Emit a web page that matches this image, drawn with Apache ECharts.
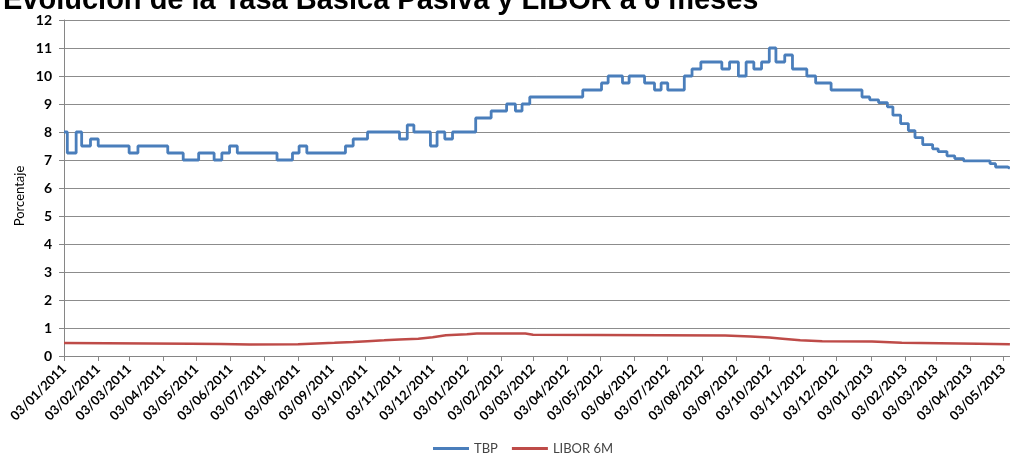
<!DOCTYPE html>
<html>
<head>
<meta charset="utf-8">
<script src="https://cdn.jsdelivr.net/npm/echarts@6/dist/echarts.min.js"></script>
<style>html,body{margin:0;padding:0;background:#fff}#c{width:1010px;height:466px}</style>
</head>
<body>
<div id="c"></div>
<script>
var titleText = 'Evolución de la Tasa Básica Pasiva y LIBOR a 6 meses';
var yName = 'Porcentaje';
var seriesNames = ['TBP', 'LIBOR 6M'];
var yTicks = [0,1,2,3,4,5,6,7,8,9,10,11,12];
var xStart = '2011-01-03';
var xEnd = '2013-05-09';
var tickDates = ['2011-01-03','2011-02-03','2011-03-03','2011-04-03','2011-05-03','2011-06-03','2011-07-03','2011-08-03','2011-09-03','2011-10-03','2011-11-03','2011-12-03','2012-01-03','2012-02-03','2012-03-03','2012-04-03','2012-05-03','2012-06-03','2012-07-03','2012-08-03','2012-09-03','2012-10-03','2012-11-03','2012-12-03','2013-01-03','2013-02-03','2013-03-03','2013-04-03','2013-05-03'];

var tbpDates = ['2011-01-03','2011-01-06','2011-01-14','2011-01-19','2011-01-27','2011-02-03','2011-03-03','2011-03-11','2011-04-07','2011-04-21','2011-05-05','2011-05-19','2011-05-26','2011-06-02','2011-06-09','2011-07-15','2011-07-29','2011-08-04','2011-08-11','2011-09-15','2011-09-22','2011-10-05','2011-11-03','2011-11-10','2011-11-16','2011-12-01','2011-12-07','2011-12-14','2011-12-21','2012-01-11','2012-01-25','2012-02-08','2012-02-16','2012-02-22','2012-02-29','2012-04-17','2012-05-04','2012-05-10','2012-05-23','2012-05-29','2012-06-12','2012-06-21','2012-06-27','2012-07-03','2012-07-18','2012-07-25','2012-08-02','2012-08-21','2012-08-28','2012-09-05','2012-09-12','2012-09-19','2012-09-26','2012-10-03','2012-10-09','2012-10-17','2012-10-24','2012-11-06','2012-11-14','2012-11-28','2012-12-26','2013-01-02','2013-01-10','2013-01-18','2013-01-23','2013-01-30','2013-02-06','2013-02-12','2013-02-19','2013-02-28','2013-03-05','2013-03-13','2013-03-20','2013-03-28','2013-04-21','2013-04-26','2013-05-07','2013-05-09'];
var tbpValues = [8.0,7.25,8.0,7.5,7.75,7.5,7.25,7.5,7.25,7.0,7.25,7.0,7.25,7.5,7.25,7.0,7.25,7.5,7.25,7.5,7.75,8.0,7.75,8.25,8.0,7.5,8.0,7.75,8.0,8.5,8.75,9.0,8.75,9.0,9.25,9.5,9.75,10.0,9.75,10.0,9.75,9.5,9.75,9.5,10.0,10.25,10.5,10.25,10.5,10.0,10.5,10.25,10.5,11.0,10.5,10.75,10.25,10.0,9.75,9.5,9.25,9.15,9.05,8.9,8.6,8.3,8.05,7.8,7.55,7.4,7.3,7.15,7.05,6.97,6.87,6.75,6.7,6.7];

var liborDates = ['2011-01-03','2011-04-28','2011-05-25','2011-06-20','2011-08-03','2011-08-20','2011-09-05','2011-09-22','2011-10-05','2011-10-20','2011-11-03','2011-11-20','2011-12-03','2011-12-15','2012-01-03','2012-01-12','2012-02-25','2012-03-03','2012-08-24','2012-09-16','2012-10-03','2012-10-15','2012-10-31','2012-11-20','2013-01-04','2013-01-31','2013-04-10','2013-05-09'];
var liborValues = [0.46,0.44,0.43,0.41,0.42,0.45,0.47,0.50,0.53,0.56,0.59,0.62,0.67,0.74,0.78,0.80,0.80,0.76,0.73,0.70,0.66,0.62,0.56,0.53,0.52,0.47,0.44,0.42];

function ts(s){ var p = s.split('-'); return Date.UTC(+p[0], +p[1]-1, +p[2]); }
function pairs(d, v){ return d.map(function(x,i){ return [ts(x), v[i]]; }); }
function pad(n){ return (n<10?'0':'')+n; }
var tickTs = tickDates.map(ts);

var chart = echarts.init(document.getElementById('c'), null, {renderer:'canvas'});
chart.setOption({
  animation: false,
  backgroundColor: '#fff',
  title: {
    text: titleText, left: -2, top: -19,
    textStyle: {fontFamily: 'Liberation Sans', fontWeight: 'bold', fontSize: 29, color: '#000'}
  },
  graphic: [{
    type: 'text', x: 20, y: 196, rotation: Math.PI/2,
    style: {text: yName, fontFamily: 'Lato', fontSize: 13, fill: '#000', align: 'center', verticalAlign: 'middle'}
  }],
  legend: {
    bottom: 6, left: 428, itemWidth: 36, itemHeight: 3, itemGap: 14,
    icon: 'rect',
    textStyle: {fontFamily: 'Lato', fontSize: 13, color: '#444'},
    data: seriesNames
  },
  grid: {left: 64, right: 0, top: 20, bottom: 110, containLabel: false},
  xAxis: {
    type: 'value', min: ts(xStart), max: ts(xEnd),
    axisLine: {show: true, lineStyle: {color: '#868686', width: 1}},
    axisTick: {show: true, customValues: tickTs, length: 5, lineStyle: {color: '#868686'}},
    splitLine: {show: false},
    axisLabel: {
      customValues: tickTs, rotate: 45, margin: 11, hideOverlap: false,
      fontFamily: 'Lato', fontWeight: 'bold', fontSize: 13, color: '#000',
      formatter: function(v){ var d = new Date(v); return pad(d.getUTCDate())+'/'+pad(d.getUTCMonth()+1)+'/'+d.getUTCFullYear(); }
    }
  },
  yAxis: {
    type: 'value', min: 0, max: 12, interval: 1,
    axisLine: {show: true, lineStyle: {color: '#868686'}},
    axisTick: {show: true, length: 5, lineStyle: {color: '#868686'}},
    splitLine: {show: true, lineStyle: {color: '#8c8c8c', width: 1}},
    axisLabel: {fontFamily: 'Lato', fontWeight: 'bold', fontSize: 14, color: '#000', margin: 12,
      formatter: function(v){ return yTicks.indexOf(v) >= 0 ? String(v) : ''; }}
  },
  series: [
    {name: seriesNames[0], type: 'line', step: 'end', showSymbol: false, data: pairs(tbpDates, tbpValues),
     itemStyle: {color: '#4A7EBB'}, lineStyle: {color: '#4A7EBB', width: 2.8}},
    {name: seriesNames[1], type: 'line', showSymbol: false, data: pairs(liborDates, liborValues),
     itemStyle: {color: '#BE4B48'}, lineStyle: {color: '#BE4B48', width: 2.5}}
  ]
});
</script>
</body>
</html>
